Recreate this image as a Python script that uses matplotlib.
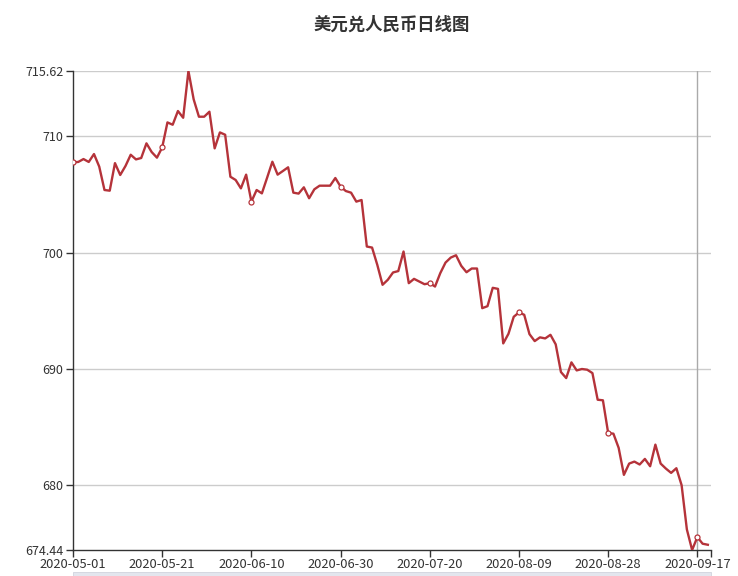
import matplotlib
matplotlib.use("Agg")
import matplotlib.pyplot as plt
from matplotlib.patches import Rectangle

plt.rcParams['font.family'] = ['Noto Sans CJK SC', 'DejaVu Sans']

title = "美元兑人民币日线图"
tick_labels = ["2020-05-01", "2020-05-21", "2020-06-10", "2020-06-30",
               "2020-07-20", "2020-08-09", "2020-08-28", "2020-09-17"]
tick_step = 17
rate = [
    707.77, 707.80, 708.05, 707.80, 708.48, 707.40, 705.39, 705.33, 707.70, 706.68,
    707.45, 708.42, 708.02, 708.14, 709.40, 708.65, 708.17, 709.05, 711.20, 711.00,
    712.18, 711.60, 715.62, 713.18, 711.69, 711.69, 712.12, 708.97, 710.34, 710.14,
    706.53, 706.25, 705.53, 706.71, 704.39, 705.39, 705.10, 706.45, 707.82, 706.71,
    707.02, 707.34, 705.16, 705.08, 705.62, 704.68, 705.45, 705.76, 705.76, 705.76,
    706.42, 705.68, 705.30, 705.16, 704.39, 704.53, 700.53, 700.44, 698.95, 697.24,
    697.67, 698.30, 698.42, 700.10, 697.38, 697.75, 697.52, 697.29, 697.38, 697.09,
    698.24, 699.15, 699.58, 699.78, 698.87, 698.32, 698.64, 698.64, 695.23, 695.40,
    696.98, 696.89, 692.20, 693.03, 694.49, 694.86, 694.66, 693.00, 692.40, 692.72,
    692.63, 692.94, 692.12, 689.74, 689.22, 690.57, 689.88, 690.00, 689.94, 689.65,
    687.36, 687.31, 684.50, 684.44, 683.22, 680.90, 681.87, 682.04, 681.79, 682.27,
    681.64, 683.50, 681.87, 681.44, 681.07, 681.47, 680.01, 676.21, 674.44, 675.55,
    674.98, 674.89,
]
pointer_index = 119
y_ticks = [674.44, 680, 690, 700, 710, 715.62]
y_tick_labels = ["674.44", "680", "690", "700", "710", "715.62"]

line_color = "#b5333a"
text_color = "#333333"

fig = plt.figure(figsize=(7.38, 5.76), dpi=100)
ax = fig.add_axes([73/738, 1-550/576, (711-73)/738, (550-71)/576])

n = len(rate)
xs = list(range(n))
ymin, ymax = min(rate), max(rate)

for yv in y_ticks[1:]:
    ax.axhline(yv, color="#cccccc", lw=1.0, zorder=1)

ax.axvline(pointer_index, color="#aaaaaa", lw=1.0, zorder=2)

ax.plot(xs, rate, color=line_color, lw=1.7, zorder=3, solid_joinstyle='round')
sym_idx = list(range(0, n, tick_step))
ax.plot(sym_idx, [rate[i] for i in sym_idx], linestyle='none', marker='o',
        markersize=3.6, markerfacecolor='white', markeredgecolor=line_color,
        markeredgewidth=0.9, zorder=4)

ax.set_xlim(0, n - 1 + 0.6)
ax.set_ylim(ymin, ymax)

ax.set_xticks(list(range(0, n, tick_step))[:len(tick_labels)])
ax.set_xticklabels(tick_labels)
ax.set_xticks([n - 1 + 0.6], minor=True)
ax.set_yticks(y_ticks)
ax.set_yticklabels(y_tick_labels)

for s in ['top', 'right']:
    ax.spines[s].set_visible(False)
for s in ['left', 'bottom']:
    ax.spines[s].set_color(text_color)
    ax.spines[s].set_linewidth(1.0)

ax.tick_params(axis='both', which='both', direction='out', length=5, width=1,
               color=text_color, labelcolor=text_color, labelsize=9)
ax.tick_params(axis='x', pad=1, labelsize=9.3)
ax.tick_params(axis='y', pad=2)

ax.set_title(title, fontsize=12.5, fontweight='bold', color=text_color, pad=30)

fig.patches.append(Rectangle((73/738, 0), (711-73)/738, 4/576,
                             transform=fig.transFigure, facecolor="#e3e6ee",
                             edgecolor="#d0d4de", lw=0.6))

fig.savefig("out.png", dpi=100)
